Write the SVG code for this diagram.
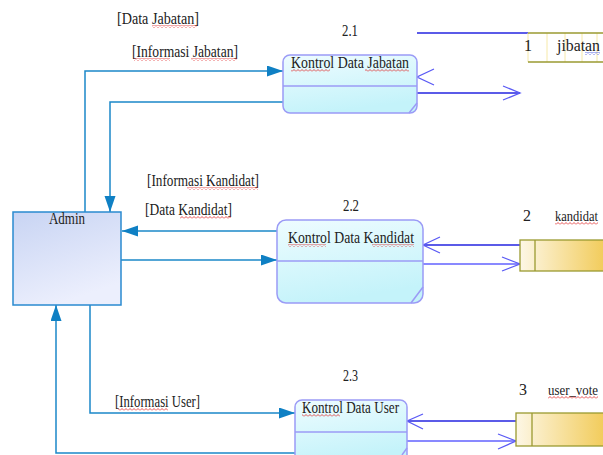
<svg xmlns="http://www.w3.org/2000/svg" width="603" height="455" viewBox="0 0 603 455">
<style>
.t{font-family:"Liberation Serif","Times New Roman",serif;font-size:16px;fill:#222}
.s{font-size:14px}
.proc{fill:url(#gProc);stroke:#9b9bf6;stroke-width:1.5}
.div{stroke:#9b9bf6;stroke-width:1.5;fill:none}
.fl{fill:none;stroke:#1b88c9;stroke-width:1.5}
.ds1{fill:none;stroke:#2424e0;stroke-width:1.3}
.ds2{fill:none;stroke:#6262ff;stroke-width:1.3}
.chev{fill:none;stroke:#5a5af5;stroke-width:1.3}
.store{stroke:#9a9a30;stroke-width:1.3}
.wav{fill:url(#wavy)}
</style>
<defs>
<linearGradient id="gProc" x1="0" y1="0" x2="0.3" y2="1">
<stop offset="0" stop-color="#eefcff"/><stop offset="1" stop-color="#c4f3fa"/>
</linearGradient>
<linearGradient id="gAdmin" x1="0" y1="0" x2="0.4" y2="1">
<stop offset="0" stop-color="#c8d4f3"/><stop offset="1" stop-color="#eceffd"/>
</linearGradient>
<linearGradient id="gStore" x1="0" y1="0" x2="1" y2="0">
<stop offset="0" stop-color="#fdf7e6"/><stop offset="1" stop-color="#f1c952"/>
</linearGradient>
<marker id="fa" markerUnits="userSpaceOnUse" markerWidth="16" markerHeight="12" refX="16" refY="5.5" orient="auto">
<path d="M0,0 L16,5.5 L0,11 z" fill="#0f80c4"/>
</marker>
<pattern id="wavy" width="4" height="3" patternUnits="userSpaceOnUse">
<path d="M0,2.5 L2,0.5 L4,2.5" fill="none" stroke="#e02424" stroke-width="0.8"/>
</pattern>
<pattern id="wavyb" width="4" height="3" patternUnits="userSpaceOnUse">
<path d="M0,2.5 L2,0.5 L4,2.5" fill="none" stroke="#3040e0" stroke-width="0.8"/>
</pattern>
</defs>
<rect width="603" height="455" fill="#ffffff"/>

<g id="connectors">
<polyline class="fl" points="85,213 85,71 283,71" marker-end="url(#fa)"/>
<polyline class="fl" points="283,102 110,102 110,212" marker-end="url(#fa)"/>
<line class="fl" x1="277" y1="231" x2="122" y2="231" marker-end="url(#fa)"/>
<line class="fl" x1="121" y1="260" x2="277" y2="260" marker-end="url(#fa)"/>
<polyline class="fl" points="90,305 90,413 295,413" marker-end="url(#fa)"/>
<polyline class="fl" points="295,453 56,453 56,305" marker-end="url(#fa)"/>

<line class="ds1" x1="417" y1="33" x2="528" y2="33"/>
<polyline class="chev" points="434,69 417,77 434,85"/>
<line class="ds1" x1="417" y1="93" x2="520" y2="93"/>
<polyline class="chev" points="503,86 520,93 503,100"/>

<line class="ds1" x1="520" y1="245" x2="423" y2="245"/>
<polyline class="chev" points="440,237 423,245 440,253"/>
<line class="ds2" x1="423" y1="264" x2="520" y2="264"/>
<polyline class="chev" points="502,257 520,264 502,271"/>

<line class="ds1" x1="516" y1="421" x2="407" y2="421"/>
<polyline class="chev" points="423,414 407,421 423,429"/>
<line class="ds2" x1="407" y1="441" x2="516" y2="441"/>
<polyline class="chev" points="498,434 516,441 498,449"/>
</g>

<g id="labels">
<text class="t" x="117" y="24" textLength="82" lengthAdjust="spacingAndGlyphs">[Data Jabatan]</text>
<text class="t" x="132" y="57" textLength="106" lengthAdjust="spacingAndGlyphs">[Informasi Jabatan]</text>
<text class="t" x="147" y="186" textLength="112" lengthAdjust="spacingAndGlyphs">[Informasi Kandidat]</text>
<text class="t" x="145" y="215" textLength="87" lengthAdjust="spacingAndGlyphs">[Data Kandidat]</text>
<text class="t" x="115" y="407" textLength="85" lengthAdjust="spacingAndGlyphs">[Informasi User]</text>
</g>

<g id="admin">
<rect x="13" y="212" width="108" height="93" fill="url(#gAdmin)" stroke="#2a8ad0" stroke-width="1.5"/>
<text class="t" x="49" y="224" textLength="36" lengthAdjust="spacingAndGlyphs">Admin</text>
</g>

<g id="p2_1">
<text class="t" x="342" y="36" textLength="16" lengthAdjust="spacingAndGlyphs">2.1</text>
<rect class="proc" x="283" y="55" width="134" height="58" rx="7"/>
<line class="div" x1="283" y1="86" x2="417" y2="86"/>
<line class="div" x1="409" y1="113" x2="417" y2="103"/>
<text class="t" x="291" y="68" textLength="118" lengthAdjust="spacingAndGlyphs">Kontrol Data Jabatan</text>
</g>

<g id="p2_2">
<text class="t" x="343" y="211" textLength="16" lengthAdjust="spacingAndGlyphs">2.2</text>
<rect class="proc" x="277" y="220" width="146" height="83" rx="9"/>
<line class="div" x1="277" y1="261" x2="423" y2="261"/>
<line class="div" x1="411" y1="303" x2="423" y2="287"/>
<text class="t" x="288" y="243" textLength="126" lengthAdjust="spacingAndGlyphs">Kontrol Data Kandidat</text>
</g>

<g id="p2_3">
<text class="t" x="343" y="381" textLength="15" lengthAdjust="spacingAndGlyphs">2.3</text>
<rect class="proc" x="295" y="400" width="112" height="62" rx="7"/>
<line class="div" x1="295" y1="432" x2="407" y2="432"/>
<line class="div" x1="402" y1="455" x2="407" y2="448"/>
<text class="t" x="302" y="413" textLength="97" lengthAdjust="spacingAndGlyphs">Kontrol Data User</text>
</g>

<g id="store1">
<g stroke="#f6e9a8" stroke-width="1">
<line x1="528" y1="33" x2="528" y2="62"/>
<line x1="547" y1="33" x2="547" y2="62"/>
<line x1="565" y1="33" x2="565" y2="62"/>
<line x1="582" y1="33" x2="582" y2="62"/>
<line x1="597" y1="33" x2="597" y2="62"/>
</g>
<line class="store" x1="528" y1="33" x2="603" y2="33"/>
<line class="store" x1="528" y1="62" x2="603" y2="62"/>
<text class="t" x="524" y="51">1</text>
<text class="t" x="557" y="51" textLength="43" lengthAdjust="spacingAndGlyphs">jibatan</text>
</g>

<g id="store2">
<rect class="store" x="520" y="240" width="90" height="31" fill="url(#gStore)"/>
<line class="store" x1="535" y1="240" x2="535" y2="271"/>
<text class="t" x="523" y="221">2</text>
<text class="t s" x="555" y="221" textLength="43" lengthAdjust="spacingAndGlyphs">kandidat</text>
</g>

<g id="store3">
<rect class="store" x="516" y="413" width="94" height="33" fill="url(#gStore)"/>
<line class="store" x1="532" y1="413" x2="532" y2="446"/>
<text class="t" x="519" y="395">3</text>
<text class="t s" x="548" y="395" textLength="50" lengthAdjust="spacingAndGlyphs">user_vote</text>
</g>

<g id="spellcheck">
<rect class="wav" x="152" y="25" width="45" height="3"/>
<rect class="wav" x="134" y="58" width="36" height="3"/>
<rect class="wav" x="191" y="58" width="46" height="3"/>
<rect class="wav" x="291" y="69" width="39" height="3"/>
<rect class="wav" x="365" y="69" width="44" height="3"/>
<rect class="wav" x="187" y="187" width="71" height="3"/>
<rect class="wav" x="180" y="216" width="51" height="3"/>
<rect class="wav" x="288" y="244" width="38" height="3"/>
<rect class="wav" x="372" y="244" width="42" height="3"/>
<rect class="wav" x="118" y="408" width="50" height="3"/>
<rect class="wav" x="302" y="414" width="38" height="3"/>
<rect class="wav" x="555" y="222" width="43" height="3"/>
<rect class="wav" x="548" y="396" width="50" height="3"/>
<rect x="585" y="52" width="15" height="3" fill="url(#wavyb)"/>
</g>
</svg>
